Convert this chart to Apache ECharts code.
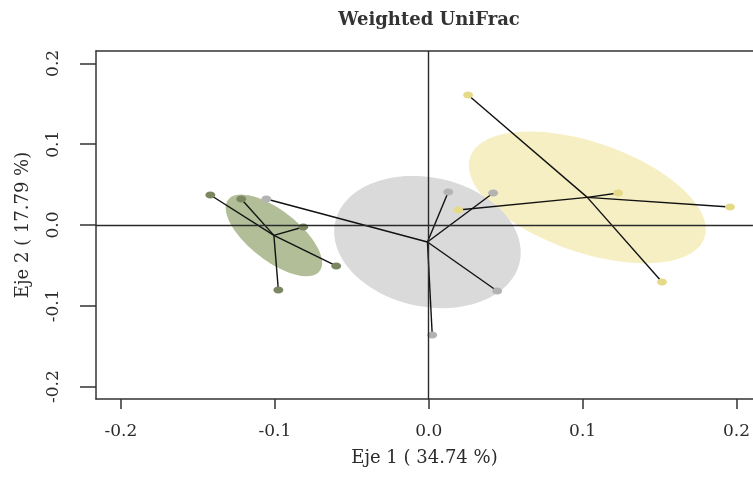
<!DOCTYPE html>
<html><head><meta charset="utf-8">
<script src="https://cdn.jsdelivr.net/npm/echarts@6/dist/echarts.min.js"></script>
<style>html,body{margin:0;padding:0;background:#fff}#c{width:753px;height:477px}</style>
</head><body><div id="c"></div>
<script>
// ---- data ----
const greenX  = [-0.1419, -0.1218, -0.0815, -0.0601, -0.0977];
const greenY  = [ 0.0371,  0.0322, -0.0025, -0.0507, -0.0804];
const grayX   = [-0.1055,  0.0127,  0.0419,  0.0445,  0.0023];
const grayY   = [ 0.0322,  0.0408,  0.0396, -0.0817, -0.1361];
const yellowX = [ 0.0256,  0.1231,  0.1958,  0.1516,  0.0192];
const yellowY = [ 0.1609,  0.0396,  0.0223, -0.0705,  0.0186];
// ellipse conjugate semi-diameters (data units): [ux, uy, vx, vy]
const greenEll  = [0.0297, -0.0442, -0.0100, -0.0244];
const grayEll   = [0.0600, -0.0244, -0.0087, -0.0781];
const yellowEll = [0.0761, -0.0500, -0.0116, -0.0644];
const xTicks = [-0.2, -0.1, 0.0, 0.1, 0.2];
const yTicks = [-0.2, -0.1, 0.0, 0.1, 0.2];
const xRange = [-0.2162, 0.2107];
const yRange = [-0.2153, 0.2153];
const titleText = 'Weighted UniFrac';
const xName = 'Eje 1 ( 34.74 %)';
const yName = 'Eje 2 ( 17.79 %)';

const FONT = 'DejaVu Serif';
const groups = [
  {name:'g1', xs:greenX,  ys:greenY,  ell:greenEll,  fill:'#b1be98', pt:'#7b8760'},
  {name:'g3', xs:yellowX, ys:yellowY, ell:yellowEll, fill:'#f6efc3', pt:'#e6da88'},
  {name:'g2', xs:grayX,   ys:grayY,   ell:grayEll,   fill:'#dadada', pt:'#b3b3b3'}
];
function mean(a){ return a.reduce((s,v)=>s+v,0)/a.length; }

function renderEllipse(params, api){
  const cx=api.value(0), cy=api.value(1), ux=api.value(2), uy=api.value(3), vx=api.value(4), vy=api.value(5);
  const pts=[];
  for(let k=0;k<90;k++){
    const t=k/90*2*Math.PI;
    pts.push(api.coord([cx+ux*Math.cos(t)+vx*Math.sin(t), cy+uy*Math.cos(t)+vy*Math.sin(t)]));
  }
  return {type:'polygon', shape:{points:pts}, style:{fill:api.visual('color')}};
}

const series=[];
groups.forEach((g,i)=>{
  const cx=mean(g.xs), cy=mean(g.ys);
  series.push({type:'custom', name:g.name+'-ell', renderItem:renderEllipse, clip:false, silent:true,
    z:1, itemStyle:{color:g.fill},
    encode:{x:0,y:1}, data:[[cx,cy].concat(g.ell)]});
});
series.push({type:'line', name:'ref', data:[], z:2, silent:true,
  markLine:{silent:true, symbol:['none','none'], animation:false, label:{show:false},
    lineStyle:{color:'#2a2a2a', width:1.4, type:'solid'},
    emphasis:{disabled:true},
    data:[{xAxis:0},{yAxis:0}]}});
groups.forEach(g=>{
  const cx=mean(g.xs), cy=mean(g.ys);
  series.push({type:'lines', coordinateSystem:'cartesian2d', z:3, silent:true,
    lineStyle:{color:'#111', width:1.4, opacity:1},
    data:g.xs.map((x,k)=>({coords:[[cx,cy],[x,g.ys[k]]]}))});
});
groups.forEach(g=>{
  series.push({type:'scatter', z:4, symbol:'circle', symbolSize:[10,7], silent:true,
    itemStyle:{color:g.pt, opacity:1},
    data:g.xs.map((x,k)=>[x,g.ys[k]])});
});

const txt={fontFamily:FONT, color:'#2b2b2b'};
const option={
  animation:false,
  backgroundColor:'#fff',
  title:{text:titleText, left:424, top:6, textAlign:'center',
    textStyle:{fontFamily:FONT, fontWeight:'bold', fontSize:18, color:'#333'}},
  grid:{left:96, top:51, right:0, bottom:78, containLabel:false},
  xAxis:[{type:'value', min:xRange[0], max:xRange[1], position:'bottom',
      axisLine:{show:true, onZero:false, lineStyle:{color:'#333', width:1.5}},
      axisTick:{show:true, customValues:xTicks, length:10, lineStyle:{color:'#333', width:1.5}},
      axisLabel:{show:true, customValues:xTicks, formatter:v=>Number(v).toFixed(1), margin:24, fontSize:17, ...txt},
      splitLine:{show:false},
      name:xName, nameLocation:'middle', nameGap:50, nameTextStyle:{fontSize:18, ...txt}},
    {type:'value', min:xRange[0], max:xRange[1], position:'top',
      axisLine:{show:true, onZero:false, lineStyle:{color:'#333', width:1.5}},
      axisTick:{show:false}, axisLabel:{show:false}, splitLine:{show:false}}],
  yAxis:[{type:'value', min:yRange[0], max:yRange[1], position:'left',
      axisLine:{show:true, onZero:false, lineStyle:{color:'#333', width:1.5}},
      axisTick:{show:true, customValues:yTicks, length:16, lineStyle:{color:'#333', width:1.5}},
      axisLabel:{show:true, customValues:yTicks, rotate:90, formatter:v=>Number(v).toFixed(1), margin:34, fontSize:17, ...txt},
      splitLine:{show:false},
      name:yName, nameLocation:'middle', nameGap:64, nameRotate:90, nameTextStyle:{fontSize:18, ...txt}}],
  series:series
};
const chart=echarts.init(document.getElementById('c'), null, {renderer:'canvas'});
chart.setOption(option);
</script></body></html>
